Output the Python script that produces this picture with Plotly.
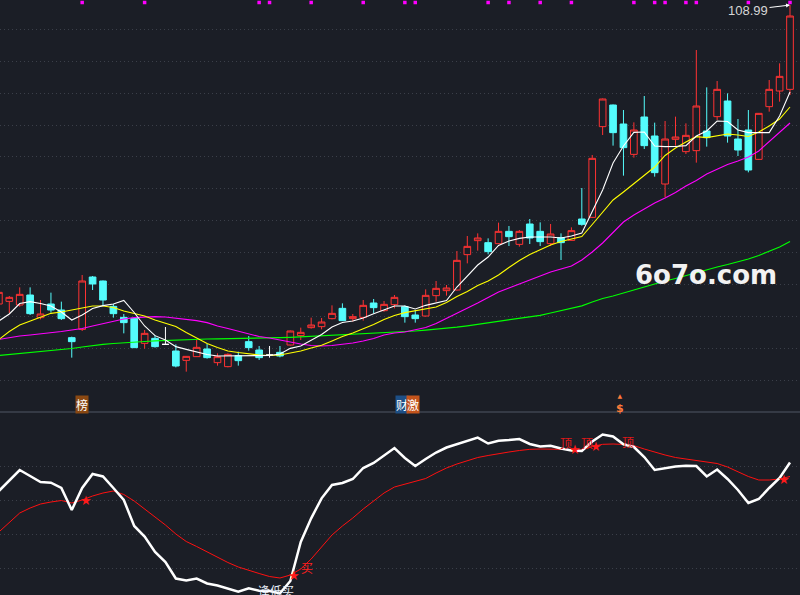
import plotly.graph_objects as go

# ---------------- data ----------------
idx = list(range(77))

opens = [49.2, 49.73, 49.0, 51.0, 46.47, 49.2, 48.0, 42.47, 44.13, 54.6,
         53.8, 48.73, 46.53, 46.33, 41.33, 42.33, 41.13, 39.8, 37.93, 38.67,
         40.2, 37.47, 36.67, 38.87, 41.67, 40.0, 39.0, 39.53, 41.0, 42.87,
         44.47, 44.67, 46.27, 48.33, 46.27, 46.53, 49.4, 47.87, 49.07, 48.67,
         47.0, 46.8, 50.87, 51.87, 52.0, 59.07, 61.87, 61.47, 61.27, 63.73,
         61.13, 65.2, 63.73, 61.27, 62.47, 61.93, 66.2, 66.53, 84.67, 89.0,
         85.2, 79.13, 86.6, 82.8, 73.2, 82.13, 79.67, 79.87, 83.8, 86.67,
         89.8, 82.2, 84.0, 78.13, 88.67, 91.8, 92.13]
highs = [51.9, 50.8, 52.53, 52.53, 50.0, 51.47, 49.67, 42.67, 55.0, 54.8,
         53.9, 49.2, 47.2, 46.5, 44.0, 42.93, 44.6, 41.13, 38.8, 42.0,
         41.2, 39.33, 39.33, 39.67, 42.8, 40.8, 40.8, 40.8, 43.9, 44.47,
         46.47, 46.4, 48.93, 49.33, 47.2, 50.0, 50.2, 49.8, 51.0, 48.93,
         48.0, 52.13, 53.8, 53.0, 59.8, 62.8, 63.33, 62.33, 65.47, 64.8,
         64.0, 66.2, 65.53, 65.2, 63.33, 64.53, 72.4, 79.0, 90.3, 89.1,
         88.0, 85.53, 90.8, 85.47, 85.8, 86.67, 85.33, 100.0, 92.53, 93.8,
         91.33, 86.2, 88.0, 87.4, 94.0, 97.33, 108.99]
lows = [48.8, 47.4, 48.67, 47.0, 46.13, 47.47, 46.0, 38.47, 43.8, 52.0,
        48.8, 46.47, 43.33, 40.4, 40.27, 40.47, 41.0, 36.53, 35.67, 38.6,
        38.27, 36.87, 36.53, 36.87, 39.87, 38.0, 38.47, 38.53, 40.9, 42.0,
        44.27, 44.13, 46.13, 45.8, 45.67, 45.87, 47.33, 47.67, 48.33, 45.47,
        45.47, 46.67, 49.67, 50.87, 51.9, 57.33, 59.87, 59.13, 61.2, 60.8,
        60.67, 61.2, 60.8, 60.8, 58.0, 61.9, 64.87, 66.4, 83.0, 80.87,
        74.87, 78.47, 80.2, 74.67, 70.53, 80.87, 79.2, 77.47, 80.67, 86.0,
        81.47, 78.8, 75.53, 78.0, 87.67, 89.67, 91.0]
closes = [51.53, 50.53, 51.13, 47.27, 47.2, 48.0, 46.27, 41.67, 53.8, 53.2,
          50.0, 47.27, 45.47, 40.47, 43.33, 40.67, 41.13, 36.8, 38.73, 40.53,
          38.47, 38.67, 39.13, 37.87, 40.47, 38.47, 39.0, 38.8, 43.8, 43.53,
          45.0, 45.6, 47.33, 45.87, 46.67, 48.93, 48.47, 49.13, 50.53, 46.67,
          46.27, 50.93, 52.33, 52.4, 57.93, 60.73, 62.4, 59.67, 63.73, 62.67,
          63.73, 62.4, 61.67, 63.2, 61.47, 63.87, 65.13, 78.33, 90.2, 83.47,
          80.47, 84.0, 80.87, 75.47, 82.2, 82.6, 82.93, 88.8, 82.47, 92.13,
          82.8, 80.0, 76.0, 87.33, 92.13, 94.73, 106.8]

ma5 = [45.8, 47.2, 49.3, 49.67, 49.3, 48.8, 47.6, 46.0, 47.0, 48.3,
       48.87, 49.2, 49.9, 47.5, 44.8, 42.87, 42.0, 40.67, 40.13, 39.6,
       39.1, 38.8, 38.8, 38.8, 38.8, 38.8, 38.9, 39.2, 40.33, 40.8,
       42.0, 43.1, 44.6, 45.5, 45.8, 46.4, 47.27, 48.0, 48.8, 48.8,
       48.2, 48.93, 49.4, 49.9, 52.6, 54.8, 57.0, 58.6, 60.9, 61.8,
       62.33, 62.6, 62.67, 62.6, 62.4, 62.8, 63.4, 67.6, 72.0, 77.4,
       80.8, 83.53, 83.6, 80.8, 80.67, 80.7, 80.87, 82.8, 83.8, 85.8,
       85.7, 84.0, 83.47, 83.47, 83.47, 86.8, 91.6]
ma10 = [42.1, 43.7, 45.0, 45.8, 46.6, 47.33, 47.6, 48.0, 48.5, 48.8,
        48.8, 48.5, 47.8, 47.3, 46.8, 46.0, 45.4, 44.7, 43.5, 42.33,
        41.3, 40.5, 39.8, 39.5, 39.2, 39.0, 38.9, 39.0, 39.4, 39.8,
        40.4, 40.93, 41.8, 42.7, 43.4, 44.2, 45.1, 46.1, 46.9, 47.47,
        47.87, 48.2, 48.6, 49.5, 50.7, 51.7, 52.9, 53.8, 55.0, 56.5,
        57.9, 59.1, 60.1, 61.0, 61.7, 62.2, 62.7, 65.1, 67.6, 70.0,
        71.6, 73.3, 74.9, 76.6, 78.9, 80.4, 81.6, 82.67, 82.47, 82.9,
        83.2, 83.0, 82.7, 83.6, 84.8, 86.2, 88.6]
ma20 = [42.1, 42.5, 42.8, 43.0, 43.2, 43.4, 43.7, 44.0, 44.3, 44.8,
        45.3, 45.8, 46.2, 46.47, 46.6, 46.67, 46.6, 46.4, 46.13, 45.87,
        45.47, 44.8, 44.3, 43.73, 43.2, 42.7, 42.4, 42.0, 41.47, 41.2,
        40.9, 40.8, 40.9, 41.1, 41.4, 41.8, 42.3, 43.0, 43.4, 43.6,
        44.0, 44.5, 45.3, 46.3, 47.3, 48.4, 49.4, 50.5, 51.6, 52.4,
        53.2, 54.0, 54.8, 55.6, 56.2, 56.8, 58.0, 59.6, 61.4, 63.6,
        65.6, 67.0, 68.2, 69.4, 70.4, 71.5, 72.8, 73.9, 75.2, 76.2,
        77.1, 77.8, 78.6, 79.8, 81.7, 83.6, 85.4]
ma60 = [38.9, 39.1, 39.2, 39.4, 39.6, 39.8, 40.1, 40.3, 40.6, 40.9,
        41.13, 41.3, 41.4, 41.47, 41.7, 41.84, 41.94, 42.0, 42.1, 42.2,
        42.2, 42.24, 42.26, 42.28, 42.3, 42.32, 42.36, 42.46, 42.54, 42.64,
        42.76, 42.86, 43.0, 43.1, 43.2, 43.24, 43.3, 43.36, 43.5, 43.66,
        43.8, 43.96, 44.14, 44.32, 44.56, 44.84, 45.12, 45.4, 45.7, 46.0,
        46.3, 46.6, 46.94, 47.4, 47.9, 48.4, 48.84, 49.6, 50.3, 50.8,
        51.4, 52.0, 52.7, 53.3, 53.8, 54.3, 54.9, 55.5, 56.1, 56.6,
        57.1, 57.6, 58.2, 58.9, 59.7, 60.6, 61.7]

osc = [62.4, 69.0, 75.0, 71.4, 67.8, 67.4, 64.2, 51.0, 64.2, 72.6,
       71.1, 64.2, 57.0, 41.4, 35.1, 25.8, 19.8, 9.9, 8.7, 9.9,
       6.9, 5.7, 3.9, 2.0, 4.0, 2.6, 2.4, 1.0, 8.4, 31.8,
       46.0, 58.0, 66.0, 67.2, 69.6, 76.2, 79.2, 83.6, 88.2, 82.2,
       77.4, 81.6, 85.5, 88.5, 90.6, 92.4, 94.4, 90.9, 92.6, 93.0,
       93.6, 90.6, 89.1, 89.6, 87.9, 86.7, 86.4, 92.1, 96.3, 95.1,
       90.4, 88.8, 82.8, 75.0, 76.2, 77.1, 77.6, 77.4, 71.1, 75.3,
       69.6, 63.0, 55.2, 57.6, 64.2, 70.2, 79.5]
sig = [37.8, 43.8, 49.2, 52.2, 54.6, 55.8, 56.7, 55.2, 57.0, 59.4,
       61.2, 62.4, 60.3, 56.4, 51.6, 46.8, 42.0, 36.6, 32.1, 29.1,
       25.8, 22.8, 19.5, 16.8, 14.7, 12.9, 11.1, 10.2, 12.0, 15.6,
       21.6, 28.8, 36.0, 41.4, 46.2, 51.6, 56.4, 61.2, 64.8, 66.6,
       68.4, 69.9, 73.2, 76.2, 78.6, 80.7, 82.5, 83.7, 84.9, 85.8,
       86.7, 87.4, 87.6, 87.6, 87.6, 87.3, 87.0, 89.1, 90.4, 90.6,
       90.3, 89.6, 87.6, 85.6, 84.0, 82.5, 81.6, 80.8, 80.1, 78.9,
       76.8, 73.8, 71.1, 69.0, 69.0, 69.6, 71.1]

signal_dots = [8, 14, 25, 26, 30, 35, 39, 40, 47, 49, 52, 55, 61, 63, 64, 66, 67, 72, 76]
dot_level = 109.5
star_idx = [8, 28, 55, 57, 75]
top_idx = [54, 56, 60]
top_vals = [91.8, 91.8, 92.4]
buy_idx, buy_val = 29, 16.8
dip_idx, dip_val = 27, 3.0
label_level = 29.2
high_label = "108.99"

# ---------------- styles ----------------
BG = "#1b1e26"
GRID = "#3b3f49"
RED = "#ff3333"
CYAN = "#54fcfc"
FONT = "Noto Sans CJK SC, Noto Sans, DejaVu Sans"
split = (595 - 412) / 595.0

fig = go.Figure()

def candles(ids, color, fill):
    return go.Candlestick(
        x=ids,
        open=[opens[i] for i in ids], high=[highs[i] for i in ids],
        low=[lows[i] for i in ids], close=[closes[i] for i in ids],
        increasing=dict(line=dict(color=color, width=1), fillcolor=fill),
        decreasing=dict(line=dict(color=color, width=1), fillcolor=fill),
        whiskerwidth=0, showlegend=False, hoverinfo="skip",
        xaxis="x", yaxis="y")

up = [i for i in idx if closes[i] > opens[i]]
dn = [i for i in idx if closes[i] < opens[i]]
eq = [i for i in idx if closes[i] == opens[i]]
fig.add_trace(candles(up, RED, BG))
fig.add_trace(candles(dn, CYAN, CYAN))
fig.add_trace(candles(eq, "#ffffff", "#ffffff"))

for series, color, w in [(ma60, "#00ff00", 1.2), (ma20, "#ff00ff", 1.1),
                         (ma10, "#ffff00", 1.1), (ma5, "#ffffff", 1.1)]:
    fig.add_trace(go.Scatter(x=idx, y=series, mode="lines",
                             line=dict(color=color, width=w),
                             showlegend=False, hoverinfo="skip",
                             xaxis="x", yaxis="y"))

fig.add_trace(go.Scatter(x=signal_dots, y=[dot_level] * len(signal_dots),
                         mode="markers",
                         marker=dict(symbol="square", size=3.5, color="#ff00ff",
                                     line=dict(width=0)),
                         showlegend=False, hoverinfo="skip",
                         xaxis="x", yaxis="y"))

# lower indicator
fig.add_trace(go.Scatter(x=idx, y=sig, mode="lines",
                         line=dict(color="#ff1010", width=1),
                         showlegend=False, hoverinfo="skip",
                         xaxis="x2", yaxis="y2"))
fig.add_trace(go.Scatter(x=idx, y=osc, mode="lines",
                         line=dict(color="#ffffff", width=2.5),
                         showlegend=False, hoverinfo="skip",
                         xaxis="x2", yaxis="y2"))

ann = []
for i in star_idx:
    ann.append(dict(x=i, y=sig[i], xref="x2", yref="y2", text="★",
                    showarrow=False, xshift=4,
                    font=dict(color="#ff1a1a", size=13, family="DejaVu Sans")))
for i, v in zip(top_idx, top_vals):
    ann.append(dict(x=i, y=v, xref="x2", yref="y2", text="顶",
                    showarrow=False, xshift=5,
                    font=dict(color="#e01818", size=12, family=FONT)))
ann.append(dict(x=buy_idx, y=buy_val, xref="x2", yref="y2", text="买",
                showarrow=False, xshift=6,
                font=dict(color="#ff2020", size=12, family=FONT)))
ann.append(dict(x=dip_idx, y=dip_val, xref="x2", yref="y2", text="逢低买",
                showarrow=False, xshift=-4,
                font=dict(color="#e8eef8", size=12, family=FONT)))

# main panel labels
ann.append(dict(x=8, y=label_level, xref="x", yref="y", text="榜",
                showarrow=False, bgcolor="#8a4812", borderpad=0,
                font=dict(color="#ffffff", size=12, family=FONT)))
ann.append(dict(x=39, y=label_level, xref="x", yref="y", text="财",
                showarrow=False, xshift=-3, bgcolor="#1d4f86", borderpad=0,
                font=dict(color="#ffffff", size=12, family=FONT)))
ann.append(dict(x=39, y=label_level, xref="x", yref="y", text="激",
                showarrow=False, xshift=8.5, bgcolor="#c4541c", borderpad=0,
                font=dict(color="#ffffff", size=12, family=FONT)))
ann.append(dict(x=60, y=label_level, xref="x", yref="y",
                text="<span style='font-size:6px'>▲</span><br><b>$</b>",
                showarrow=False, xshift=-3, yshift=1,
                font=dict(color="#ff7b3a", size=11, family="DejaVu Sans")))

# highest price marker
ann.append(dict(x=76, y=highs[76], xref="x", yref="y", text=high_label,
                showarrow=True, arrowhead=2, arrowsize=0.8, arrowwidth=1,
                arrowcolor="#ffffff", ax=-42, ay=5, standoff=0,
                font=dict(color="#d6d6d6", size=13, family="Liberation Sans")))

# watermark
ann.append(dict(x=706 / 800, y=1 - 275 / 595, xref="paper", yref="paper",
                xanchor="center", yanchor="middle",
                text="<b>6o7o.com</b>", showarrow=False,
                font=dict(color="#f2f2f2", size=26, family="DejaVu Sans")))

fig.update_layout(
    width=800, height=595,
    margin=dict(l=0, r=0, t=0, b=0, pad=0),
    paper_bgcolor=BG, plot_bgcolor=BG,
    showlegend=False,
    boxgap=0.36, boxgroupgap=0,
    xaxis=dict(domain=[0, 1], range=[0.1066, 76.96], anchor="y",
               showgrid=False, showticklabels=False, zeroline=False,
               showline=False, rangeslider=dict(visible=False), ticks=""),
    yaxis=dict(domain=[split, 1], range=[27.6, 110], anchor="x",
               tick0=104.14, dtick=6.38, showgrid=True, gridcolor=GRID,
               griddash="1px,3px", gridwidth=1, showticklabels=False,
               zeroline=False, showline=False, ticks=""),
    xaxis2=dict(domain=[0, 1], range=[0.1066, 76.96], anchor="y2",
                showgrid=False, showticklabels=False, zeroline=False,
                showline=False, ticks=""),
    yaxis2=dict(domain=[0, split], range=[0, 109.8], anchor="x2",
                tickmode="array", tickvals=[16.2, 36.6, 56.8, 77.0],
                showgrid=True, gridcolor=GRID, griddash="1px,3px", gridwidth=1,
                showticklabels=False, zeroline=False, showline=False, ticks=""),
    annotations=ann,
    shapes=[dict(type="line", xref="paper", yref="paper", x0=0, x1=1,
                 y0=split, y1=split, line=dict(color="#3f4450", width=1.5))],
)

fig.write_html("out.html",
               config={"displayModeBar": False},
               post_script="document.body.style.margin='0';"
                           "document.body.style.padding='0';"
                           "document.body.style.overflow='hidden';"
                           f"document.body.style.background='{BG}';")
